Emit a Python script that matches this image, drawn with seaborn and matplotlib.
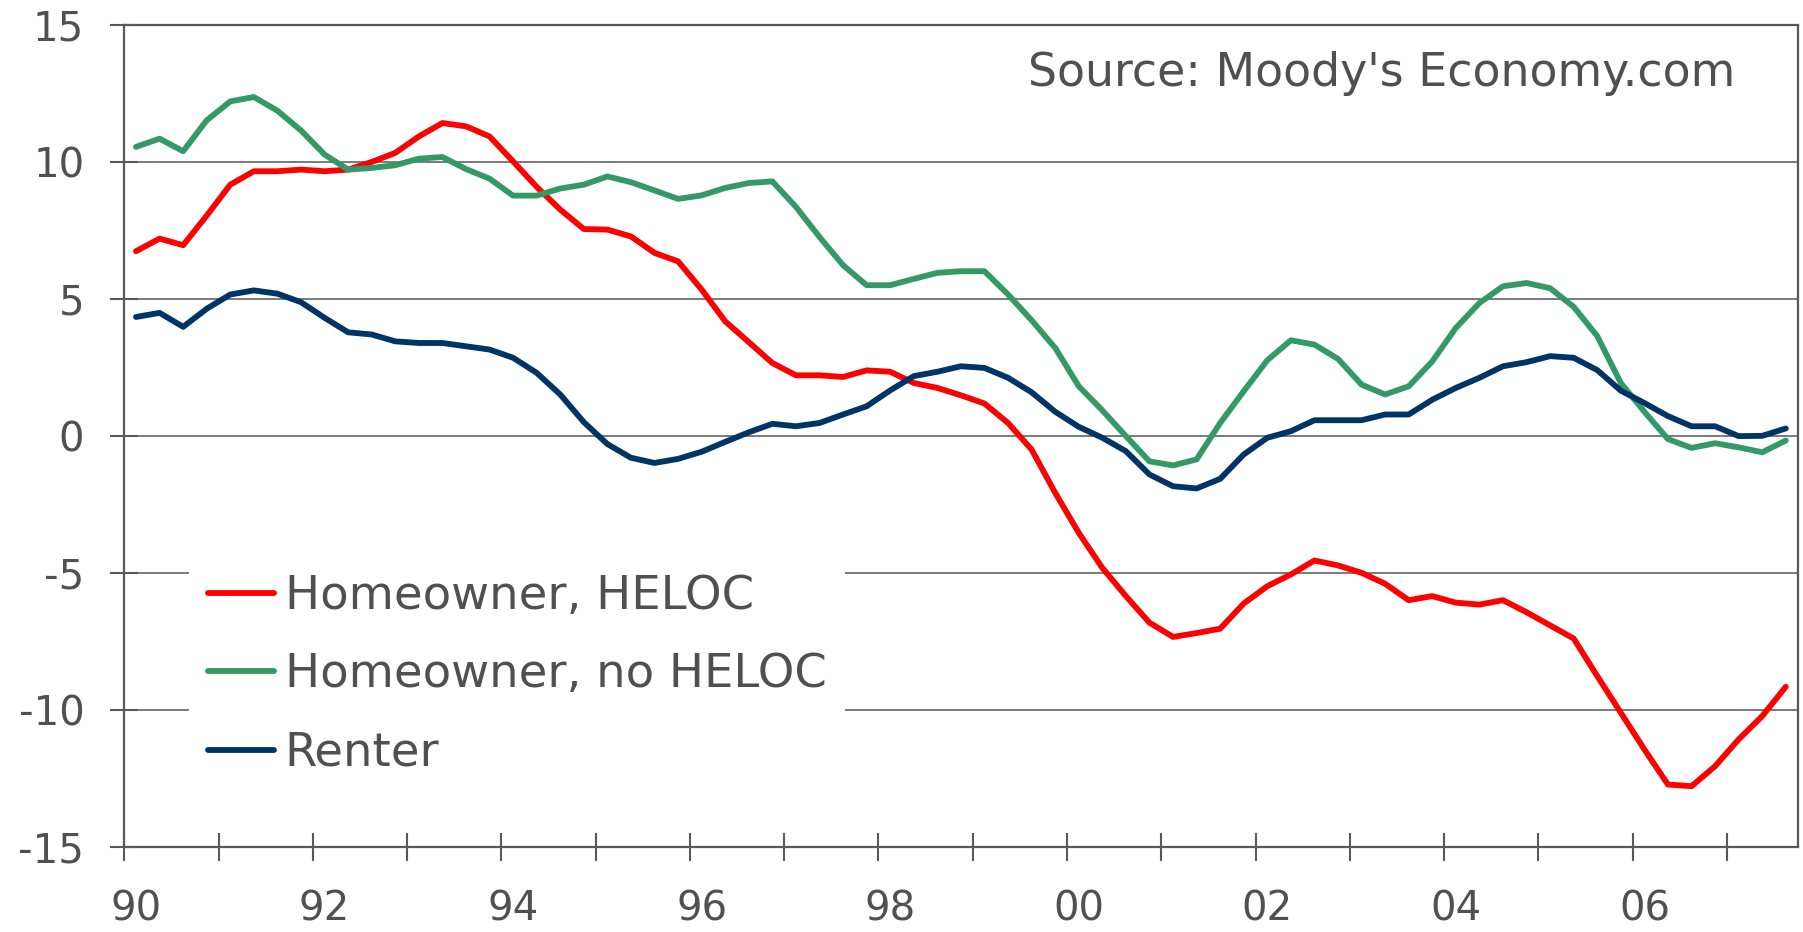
import matplotlib
matplotlib.use("Agg")
import matplotlib.pyplot as plt
from matplotlib.lines import Line2D
import seaborn as sns
import numpy as np
import pandas as pd

# quarterly data, 1990Q1 - 2007Q3
quarters = [f"{y}Q{q}" for y in range(1990, 2008) for q in range(1, 5)][:71]

heloc = [6.74, 7.20, 6.96, 8.04, 9.17, 9.66, 9.66, 9.72, 9.66, 9.72,
         10.0, 10.33, 10.93, 11.42, 11.30, 10.93, 10.02, 9.09, 8.26, 7.55,
         7.53, 7.28, 6.68, 6.37, 5.34, 4.18, 3.42, 2.66, 2.21, 2.21,
         2.15, 2.39, 2.34, 1.93, 1.75, 1.48, 1.18, 0.47, -0.5, -2.08,
         -3.54, -4.82, -5.85, -6.82, -7.34, -7.2, -7.04, -6.12, -5.49, -5.06,
         -4.55, -4.73, -5.0, -5.40, -6.0, -5.85, -6.09, -6.16, -6.0, -6.44,
         -6.92, -7.40, -8.77, -10.11, -11.45, -12.73, -12.79, -12.06, -11.08, -10.23,
         -9.16]

no_heloc = [10.55, 10.85, 10.39, 11.52, 12.21, 12.37, 11.87, 11.15, 10.27, 9.72,
            9.78, 9.88, 10.12, 10.18, 9.74, 9.39, 8.77, 8.77, 9.03, 9.17,
            9.47, 9.26, 8.96, 8.65, 8.78, 9.05, 9.23, 9.29, 8.36, 7.26,
            6.23, 5.50, 5.50, 5.73, 5.95, 6.01, 6.01, 5.16, 4.22, 3.21,
            1.81, 0.93, -0.01, -0.93, -1.08, -0.86, 0.47, 1.63, 2.76, 3.49,
            3.33, 2.81, 1.87, 1.51, 1.81, 2.72, 3.94, 4.85, 5.46, 5.58,
            5.39, 4.71, 3.64, 1.93, 0.88, -0.12, -0.44, -0.27, -0.42, -0.6,
            -0.17]

renter = [4.34, 4.49, 3.98, 4.64, 5.16, 5.31, 5.19, 4.88, 4.31, 3.78,
          3.70, 3.45, 3.39, 3.39, 3.27, 3.15, 2.85, 2.30, 1.51, 0.50,
          -0.30, -0.80, -0.99, -0.84, -0.58, -0.22, 0.13, 0.44, 0.35, 0.47,
          0.78, 1.08, 1.66, 2.18, 2.34, 2.54, 2.48, 2.12, 1.59, 0.88,
          0.33, -0.07, -0.56, -1.41, -1.84, -1.92, -1.57, -0.68, -0.07, 0.17,
          0.57, 0.57, 0.57, 0.78, 0.78, 1.32, 1.75, 2.12, 2.54, 2.69,
          2.91, 2.85, 2.40, 1.65, 1.20, 0.72, 0.35, 0.35, -0.01, 0.0,
          0.27]

series_names = ["Homeowner, HELOC", "Homeowner, no HELOC", "Renter"]
series_colors = ["#ff0000", "#339966", "#003366"]
year_labels = ["90", "92", "94", "96", "98", "00", "02", "04", "06"]
source_note = "Source: Moody's Economy.com"

text_color = "#505050"
axis_color = "#595959"

df = pd.DataFrame({"quarter": quarters,
                   series_names[0]: heloc,
                   series_names[1]: no_heloc,
                   series_names[2]: renter})
df["pos"] = np.arange(len(df))
long_df = df.melt(id_vars=["quarter", "pos"], var_name="series", value_name="value")

sns.set_style("white")
plt.rcParams["font.family"] = ["DejaVu Sans"]
plt.rcParams["axes.unicode_minus"] = False

fig = plt.figure(figsize=(18.03, 9.32), dpi=100)
ax = fig.add_axes([0.0689, 0.0915, 0.9281, 0.8817])

palette = dict(zip(series_names, series_colors))
sns.lineplot(data=long_df, x="pos", y="value", hue="series", hue_order=series_names,
             palette=palette, linewidth=4.2, ax=ax, legend=False, zorder=3)

ax.set_xlim(-0.5, len(quarters) - 0.5)
ax.set_ylim(-15, 15)
ax.set_xlabel("")
ax.set_ylabel("")

# year labels sit on the first quarter, tick marks on year boundaries
ax.set_xticks(np.arange(0, 8 * len(year_labels), 8))
ax.set_xticklabels(year_labels)
ax.set_xticks(np.arange(-0.5, len(quarters), 4), minor=True)
ax.tick_params(axis="x", which="major", bottom=True, length=0, pad=31, labelsize=29,
               labelcolor=text_color)
ax.tick_params(axis="x", which="minor", bottom=True, direction="inout", length=20, width=1.5,
               color=axis_color)

ax.set_yticks(np.arange(-15, 16, 5))
ax.tick_params(axis="y", left=True, direction="inout", length=19.5, width=1.5, color=axis_color,
               pad=19, labelsize=29, labelcolor=text_color)

ax.yaxis.grid(True, color="#7a7a7a", linewidth=1.4)
ax.xaxis.grid(False)
ax.set_axisbelow(True)
for side in ["left", "right", "top", "bottom"]:
    ax.spines[side].set_visible(True)
    ax.spines[side].set_color(axis_color)
    ax.spines[side].set_linewidth(1.6)

ax.text(0.963, 0.9258, source_note, transform=ax.transAxes, ha="right", va="baseline",
        fontsize=33, color=text_color)

handles = [Line2D([0], [0], color=c, linewidth=4.2, solid_capstyle="round") for c in series_colors]
leg = ax.legend(handles, series_names, loc="center left", bbox_to_anchor=(0.0387, 0.209),
                frameon=True, facecolor="white", edgecolor="none", framealpha=1, fancybox=False,
                fontsize=33.5, handlelength=1.42, handletextpad=0.24, labelspacing=0.72,
                borderpad=0.4, borderaxespad=0, labelcolor=text_color)
leg.set_zorder(5)

fig.savefig("out.png", dpi=100)
